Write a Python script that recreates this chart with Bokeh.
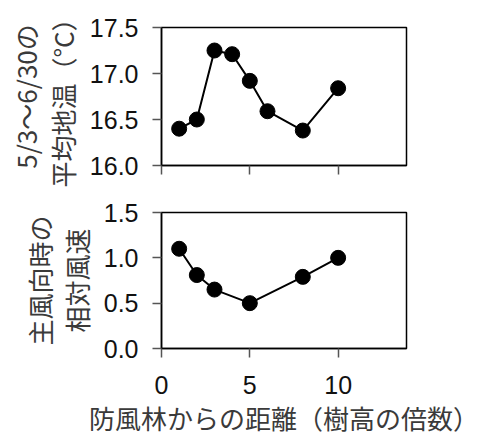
from bokeh.plotting import figure
from bokeh.layouts import column
from bokeh.models import Range1d, FixedTicker, NumeralTickFormatter
from bokeh.embed import file_html
from bokeh.resources import INLINE

# distance from windbreak (multiples of tree height)
dist_temp = [1, 2, 3, 4, 5, 6, 8, 10]
soil_temp = [16.40, 16.50, 17.25, 17.21, 16.92, 16.59, 16.38, 16.84]

dist_wind = [1, 2, 3, 5, 8, 10]
rel_wind = [1.10, 0.81, 0.65, 0.50, 0.79, 1.00]

x_ticks = [0, 5, 10]
temp_ticks = [16.0, 16.5, 17.0, 17.5]
wind_ticks = [0.0, 0.5, 1.0, 1.5]

temp_title = "5/3～6/30の\n平均地温（°C）"
wind_title = "主風向時の\n相対風速"
x_title = "防風林からの距離（樹高の倍数）"

TICK_FONT = "Liberation Sans"
CJK_FONT = "Noto Sans CJK JP"


def style(p, ylabel, yticks, show_x):
    for ax in (p.xaxis[0], p.yaxis[0]):
        ax.axis_line_color = "black"
        ax.axis_line_width = 1.5
        ax.major_tick_line_color = "#555555"
        ax.major_tick_line_width = 1.5
        ax.major_tick_out = 9
        ax.major_tick_in = 0
        ax.minor_tick_line_color = None
        ax.major_label_text_font = TICK_FONT
        ax.major_label_text_font_size = "25px"
        ax.major_label_text_color = "#111111"
        ax.axis_label_text_font = CJK_FONT
        ax.axis_label_text_font_style = "normal"
        ax.axis_label_text_color = "#3a3a3a"
    p.yaxis.ticker = FixedTicker(ticks=yticks)
    p.yaxis.formatter = NumeralTickFormatter(format="0.0")
    p.yaxis.major_label_standoff = 14
    p.yaxis.axis_label = ylabel
    p.yaxis.axis_label_standoff = 6
    p.yaxis.axis_label_text_font_size = "26px"
    p.yaxis.axis_label_text_line_height = 1.0
    p.xaxis.ticker = FixedTicker(ticks=x_ticks)
    if show_x:
        p.xaxis.major_label_standoff = 18
        p.xaxis.axis_label = x_title
        p.xaxis.axis_label_standoff = 2
        p.xaxis.axis_label_text_font_size = "26px"
    else:
        p.xaxis.major_label_overrides = {t: "" for t in x_ticks}
        p.xaxis.major_label_text_font_size = "10px"
        p.xaxis.major_label_standoff = 0
    p.xgrid.grid_line_color = None
    p.ygrid.grid_line_color = None
    p.outline_line_color = "black"
    p.outline_line_width = 1.5
    p.background_fill_color = "white"
    p.border_fill_color = "white"


p1 = figure(width=478, height=190, output_backend="svg", toolbar_location=None,
            x_range=Range1d(0, 13.87), y_range=Range1d(16.0, 17.5),
            min_border_left=161, min_border_right=72, min_border_top=27,
            min_border_bottom=25)
style(p1, temp_title, temp_ticks, False)
p1.line(dist_temp, soil_temp, line_color="black", line_width=2)
p1.scatter(dist_temp, soil_temp, size=15, fill_color="black", line_color="black")

p2 = figure(width=478, height=248, output_backend="svg", toolbar_location=None,
            x_range=Range1d(0, 13.87), y_range=Range1d(0.0, 1.5),
            min_border_left=161, min_border_right=72, min_border_top=22,
            min_border_bottom=87)
style(p2, wind_title, wind_ticks, True)
p2.line(dist_wind, rel_wind, line_color="black", line_width=2)
p2.scatter(dist_wind, rel_wind, size=15, fill_color="black", line_color="black")

layout = column(p1, p2, spacing=0)
open("out.html", "w").write(file_html(layout, INLINE))
